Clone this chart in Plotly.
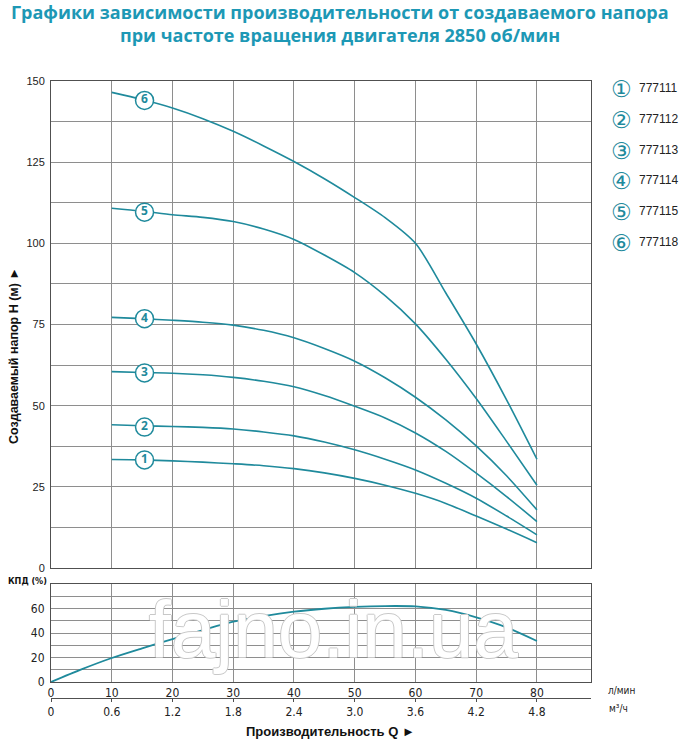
import plotly.graph_objects as go

# ---------------- data ----------------
q_lpm = [10, 15, 20, 25, 30, 35, 40, 45, 50, 55, 60, 65, 70, 75, 80]
h_777111 = [33.4, 33.3, 33.0, 32.6, 32.1, 31.5, 30.6, 29.3, 27.6, 25.5, 23.0, 19.9, 16.0, 12.0, 7.8]
h_777112 = [44.1, 43.8, 43.6, 43.3, 42.8, 41.9, 40.7, 38.8, 36.4, 33.5, 30.2, 26.1, 21.5, 16.0, 10.2]
h_777113 = [60.5, 60.2, 60.0, 59.5, 58.7, 57.5, 55.8, 53.1, 49.8, 46.2, 41.6, 35.9, 29.2, 22.0, 14.3]
h_777114 = [77.2, 76.8, 76.3, 75.7, 74.8, 73.2, 70.9, 67.6, 63.7, 58.6, 52.6, 45.6, 37.6, 28.4, 17.9]
h_777115 = [110.8, 109.9, 108.8, 108.0, 106.7, 104.4, 101.2, 96.4, 91.0, 83.9, 75.2, 64.3, 52.2, 39.0, 25.5]
h_777118 = [146.5, 144.3, 141.7, 138.4, 134.5, 130.0, 125.2, 119.9, 114.1, 107.9, 100.0, 84.7, 69.0, 51.8, 33.5]

models = ["777111", "777112", "777113", "777114", "777115", "777118"]
model_nums = ["1", "2", "3", "4", "5", "6"]
circled = ["①", "②", "③", "④", "⑤", "⑥"]
heads = [h_777111, h_777112, h_777113, h_777114, h_777115, h_777118]

# curve label markers (position of the circled number on each curve)
label_q = 15.4
label_h = [33.3, 43.4, 60.1, 76.8, 109.6, 144.0]

q_eff = [0, 5, 10, 15, 20, 25, 30, 35, 40, 45, 50, 55, 60, 65, 70, 75, 80]
eff = [0, 10.3, 19.6, 27.5, 35.0, 42.3, 49.2, 53.8, 57.4, 59.8, 61.3, 62.0, 61.7, 58.8, 52.8, 44.6, 33.5]

x_ticks_lpm = [0, 10, 20, 30, 40, 50, 60, 70, 80]
x_ticks_m3h = ["0", "0.6", "1.2", "1.8", "2.4", "3.0", "3.6", "4.2", "4.8"]

# ---------------- style / layout (window pixel coords) ----------------
W, H = 680, 739
PL, PR, PT, PB = 51, 591, 81, 698   # plot box in window pixels
ML, MT = PL, PT
MR, MB = W - PR, H - PB
PH = PB - PT
PW = PR - PL
CURVE = "#1f8a9c"
TITLE = "#1d98b5"
GRID = "#8e8e8e"
FRAME = "#505050"
NARROW = "Liberation Sans Narrow, DejaVu Sans Condensed, Arial Narrow, sans-serif"
SANS = "Liberation Sans, Arial, sans-serif"


def py(p):
    return (PB - p) / PH


def px(p):
    return (p - PL) / PW


fig = go.Figure()

# watermark (behind curves), placed on the m3/h overlay axis
fig.add_trace(go.Scatter(
    x=[46.5], y=[37], xaxis="x3", yaxis="y2", mode="text", text=["fajno.in.ua"],
    textposition="middle center", cliponaxis=False, hoverinfo="skip", showlegend=False,
    textfont=dict(size=80, color="white", family="Liberation Sans, Arial",
                  shadow="1px 0 0 #c8c8c8, -1px 0 0 #c8c8c8, 0 1px 0 #c8c8c8, 0 -1px 0 #c8c8c8"),
))

for name, h in zip(models, heads):
    fig.add_trace(go.Scatter(
        x=q_lpm, y=h, mode="lines", name=name, showlegend=False,
        line=dict(color=CURVE, width=1.6, shape="spline", smoothing=0.8),
        xaxis="x", yaxis="y",
    ))

fig.add_trace(go.Scatter(
    x=[label_q] * len(label_h), y=label_h, mode="markers+text", text=model_nums,
    textposition="middle center", showlegend=False, hoverinfo="skip",
    marker=dict(size=18, color="white", line=dict(color=CURVE, width=1.5)),
    textfont=dict(size=12, color=CURVE, family="Open Sans", weight="bold"),
    xaxis="x", yaxis="y",
))

fig.add_trace(go.Scatter(
    x=q_eff, y=eff, mode="lines", showlegend=False,
    line=dict(color=CURVE, width=1.8, shape="spline", smoothing=0.8),
    xaxis="x2", yaxis="y2",
))

top_lo = py(568)
eff_lo, eff_hi = py(682), py(584)

fig.update_layout(
    width=W, height=H,
    margin=dict(l=ML, r=MR, t=MT, b=MB, autoexpand=False),
    paper_bgcolor="white", plot_bgcolor="white",
    xaxis=dict(domain=[0, 1], range=[0, 88.9], anchor="y", tickvals=x_ticks_lpm,
               showticklabels=False, showgrid=True, gridcolor=GRID, gridwidth=1,
               zeroline=False, showline=True, linecolor=FRAME, linewidth=1, mirror=True),
    yaxis=dict(domain=[top_lo, 1], range=[0, 150], anchor="x", dtick=25,
               showgrid=True, gridcolor=GRID, gridwidth=1, zeroline=False,
               minor=dict(dtick=12.5, showgrid=True, gridcolor=GRID, gridwidth=1),
               showline=True, linecolor=FRAME, linewidth=1, mirror=True,
               tickfont=dict(size=11, color="#222", family=SANS), ticklabelstandoff=3),
    xaxis2=dict(domain=[0, 1], range=[0, 88.9], anchor="y2", tickvals=x_ticks_lpm,
                showgrid=True, gridcolor=GRID, gridwidth=1, zeroline=False,
                showline=True, linecolor=FRAME, linewidth=1, mirror=True,
                tickfont=dict(size=12, color="#222", family=NARROW), ticklabelstandoff=0),
    yaxis2=dict(domain=[eff_lo, eff_hi], range=[0, 80], anchor="x2",
                tickvals=[0, 20, 40, 60],
                minor=dict(dtick=10, showgrid=True, gridcolor=GRID, gridwidth=1),
                showgrid=True, gridcolor=GRID, gridwidth=1, zeroline=False,
                showline=True, linecolor=FRAME, linewidth=1, mirror=True,
                tickfont=dict(size=12, color="#222", family=NARROW), ticklabelstandoff=3),
    xaxis3=dict(overlaying="x2", anchor="free", position=0, range=[0, 88.9], side="bottom",
                tickvals=x_ticks_lpm, ticktext=x_ticks_m3h, showgrid=False, zeroline=False,
                showline=True, linecolor=FRAME, linewidth=1, ticks="outside", ticklen=3,
                tickcolor=FRAME, tickfont=dict(size=12, color="#222", family=NARROW)),
    showlegend=False,
)


def note(text, x, y, size, color="#222", family=SANS, weight="normal", xanchor="center", **kw):
    return dict(text=text, xref="paper", yref="paper", x=px(x), y=py(y), showarrow=False,
                xanchor=xanchor, yanchor="middle",
                font=dict(size=size, color=color, family=family, weight=weight), **kw)


ann = []
ann.append(note("Графики зависимости производительности от создаваемого напора", 340, 12,
                18, TITLE, "Open Sans", "bold"))
ann.append(note("при частоте вращения двигателя 2850 об/мин", 340, 35.5,
                18, TITLE, "Open Sans", "bold"))
ann.append(note("Создаваемый напор H (м) ►", 14, 356, 12.5, "#111", SANS, "bold", textangle=-90))
ann.append(note("Производительность Q ►", 330, 731, 13, "#111", SANS, "bold"))
ann.append(note("КПД (%)", 27, 581, 9, "#111", NARROW, "bold"))
ann.append(note("л/мин", 621, 690, 10, "#222", NARROW))
ann.append(note("м³/ч", 618, 708, 10, "#222", NARROW))
for i, (c, m) in enumerate(zip(circled, models)):
    yy = 88 + i * 30.8
    ann.append(note(c, 621, yy + 1, 23, CURVE, "DejaVu Sans"))
    ann.append(note(m, 637, yy, 12, "#222", SANS, xanchor="left"))
fig.update_layout(annotations=ann)

fig.write_html(
    "out.html",
    config={"displayModeBar": False},
    post_script="document.body.style.margin='0px';document.body.style.overflow='hidden';",
)
